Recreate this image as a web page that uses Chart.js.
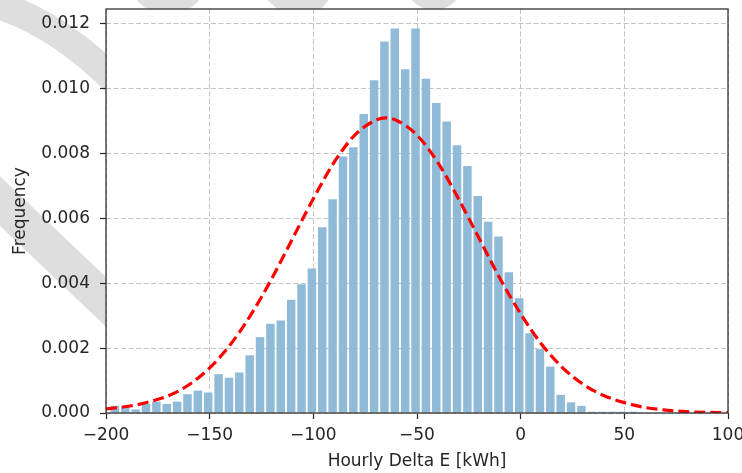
<!DOCTYPE html>
<html>
<head>
<meta charset="utf-8">
<script src="https://cdn.jsdelivr.net/npm/chart.js@4.4.0/dist/chart.umd.min.js"></script>
<style>
  html, body { margin: 0; padding: 0; background: #fff; }
  #wrap { width: 742px; height: 473px; }
</style>
</head>
<body>
<div id="wrap"><canvas id="chart1" width="742" height="473"></canvas></div>
<script>
// histogram bins (centre of each 5 kWh bin) and their density
const binCenters = [
    -195.7, -190.7, -185.7, -180.7, -175.7, -170.7, -165.7, -160.7, -155.7, -150.7,
    -145.7, -140.7, -135.7, -130.7, -125.7, -120.7, -115.7, -110.7, -105.7, -100.7,
    -95.7, -90.7, -85.7, -80.7, -75.7, -70.7, -65.7, -60.7, -55.7, -50.7,
    -45.7, -40.7, -35.7, -30.7, -25.7, -20.7, -15.7, -10.7, -5.7, -0.7,
    4.3, 9.3, 14.3, 19.3, 24.3, 29.3, 34.3, 39.3, 44.3, 49.3, 54.3
];
const binFreq = [
    0.00022, 0.00020, 0.00011, 0.00028, 0.00035, 0.00028, 0.00035, 0.00058, 0.00069, 0.00063,
    0.00120, 0.00109, 0.00125, 0.00178, 0.00234, 0.00275, 0.00285, 0.00349, 0.00397, 0.00446,
    0.00573, 0.00659, 0.00791, 0.00820, 0.00922, 0.01026, 0.01146, 0.01186, 0.01060, 0.01186,
    0.01031, 0.00956, 0.00899, 0.00826, 0.00762, 0.00669, 0.00590, 0.00544, 0.00434, 0.00354,
    0.00246, 0.00197, 0.00143, 0.00056, 0.00033, 0.00022, 0.00004, 0.00004, 0.00004, 0.00004,
    0.00004
];

// fitted curve
const fitX = [
    -200, -190, -180, -170, -160, -150, -140, -130, -120, -110, -100,
    -90, -80, -70, -65, -60, -50, -40, -30, -20, -10, 0,
    10, 20, 30, 40, 50, 60, 70, 80, 90, 100
];
const fitY = [
    0.00013, 0.00020, 0.00033, 0.00053, 0.00087, 0.00139, 0.00211, 0.00304, 0.00415, 0.00538, 0.00661,
    0.00773, 0.00857, 0.00903, 0.00910, 0.00903, 0.00857, 0.00773, 0.00661, 0.00538, 0.00415, 0.00306,
    0.00213, 0.00141, 0.00089, 0.00054, 0.00032, 0.00017, 0.00009, 0.00004, 0.00002, 0.00001
];

const xTicks = [-200, -150, -100, -50, 0, 50, 100];
const yTicks = [0, 0.002, 0.004, 0.006, 0.008, 0.010, 0.012];

const FONT = { family: "'DejaVu Sans', sans-serif", size: 17 };
const INK = "#262626";

// grey watermark bands behind the axes, plus frame around the plot
const backdrop = {
    id: "backdrop",
    beforeDraw(chart) {
        const { ctx, chartArea: a } = chart;
        ctx.save();
        ctx.fillStyle = "#fff";
        ctx.fillRect(0, 0, chart.width, chart.height);
        ctx.strokeStyle = "#dedede";
        ctx.fillStyle = "#dedede";

        ctx.lineWidth = 28;
        ctx.beginPath();
        ctx.moveTo(-12, 2);
        ctx.quadraticCurveTo(55, 20, 118, 84);
        ctx.stroke();

        ctx.lineWidth = 36;
        ctx.beginPath();
        ctx.moveTo(-20, 182);
        ctx.lineTo(125, 320);
        ctx.stroke();

        ctx.beginPath();
        ctx.arc(168, -25, 40, 0, Math.PI * 2);
        ctx.fill();

        ctx.lineWidth = 55;
        ctx.beginPath();
        ctx.moveTo(275, -30);
        ctx.lineTo(320, 10);
        ctx.stroke();

        ctx.beginPath();
        ctx.arc(434, -20, 30, 0, Math.PI * 2);
        ctx.fill();

        ctx.fillStyle = "#fff";
        ctx.fillRect(a.left, a.top, a.right - a.left, a.bottom - a.top);
        ctx.restore();
    },
    afterDraw(chart) {
        const { ctx, chartArea: a } = chart;
        ctx.save();
        ctx.strokeStyle = "#333";
        ctx.lineWidth = 1.3;
        ctx.strokeRect(a.left, a.top, a.right - a.left, a.bottom - a.top);
        ctx.restore();
    }
};

const ctx = document.getElementById("chart1").getContext("2d");

new Chart(ctx, {
    type: "bar",
    data: {
        datasets: [
            {
                type: "line",
                label: "fit",
                data: fitX.map((x, i) => ({ x: x, y: fitY[i] })),
                borderColor: "#ff0000",
                borderWidth: 3.2,
                borderDash: [11, 5],
                pointRadius: 0,
                cubicInterpolationMode: "monotone",
                fill: false,
                order: 0
            },
            {
                label: "hist",
                data: binCenters.map((x, i) => ({ x: x, y: binFreq[i] })),
                backgroundColor: "#8fbbd9",
                borderWidth: 0,
                barPercentage: 0.82,
                categoryPercentage: 1.0,
                order: 1
            }
        ]
    },
    options: {
        responsive: false,
        animation: false,
        devicePixelRatio: 1,
        layout: { padding: { top: 9, right: 14, left: 0, bottom: 0 } },
        plugins: {
            legend: { display: false },
            tooltip: { enabled: false }
        },
        scales: {
            x: {
                type: "linear",
                min: -200,
                max: 100,
                offset: false,
                afterFit: s => { s.height = 60; s.paddingLeft = 0; s.paddingRight = 0; },
                afterBuildTicks: s => { s.ticks = xTicks.map(v => ({ value: v })); },
                grid: {
                    offset: false,
                    color: "#c4c4c4",
                    lineWidth: 1,
                    tickLength: 6,
                    tickColor: INK,
                    tickWidth: 1.2
                },
                border: { display: false, dash: [5, 2.5] },
                ticks: {
                    color: INK,
                    font: FONT,
                    padding: 6,
                    maxRotation: 0,
                    autoSkip: false,
                    callback: v => v < 0 ? "\u2212" + Math.abs(v) : String(v)
                },
                title: {
                    display: true,
                    text: "Hourly Delta E [kWh]",
                    color: INK,
                    font: FONT,
                    padding: { top: 0, bottom: 1 }
                }
            },
            y: {
                min: 0,
                max: 0.01246,
                afterFit: s => { s.width = 106; s.paddingTop = 0; s.paddingBottom = 0; },
                afterBuildTicks: s => { s.ticks = yTicks.map(v => ({ value: v })); },
                grid: {
                    color: "#c4c4c4",
                    lineWidth: 1,
                    tickLength: 6,
                    tickColor: INK,
                    tickWidth: 1.2
                },
                border: { display: false, dash: [5, 2.5] },
                ticks: {
                    color: INK,
                    font: FONT,
                    padding: 10,
                    callback: v => v.toFixed(3)
                },
                title: {
                    display: true,
                    text: "Frequency",
                    color: INK,
                    font: FONT,
                    padding: { top: 10, bottom: 0 }
                }
            }
        }
    },
    plugins: [backdrop]
});
</script>
</body>
</html>
